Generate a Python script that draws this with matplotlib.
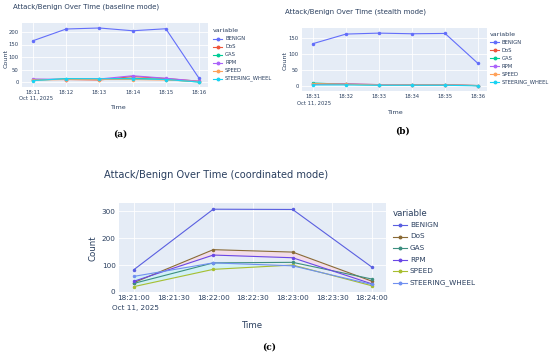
import matplotlib
matplotlib.use('Agg')
import matplotlib.pyplot as plt
from matplotlib.lines import Line2D

series = ['BENIGN', 'DoS', 'GAS', 'RPM', 'SPEED', 'STEERING_WHEEL']

# baseline mode (a)
base_x = [0, 1, 2, 3, 4, 5]
base_ticks = ['18:11', '18:12', '18:13', '18:14', '18:15', '18:16']
base_benign = [165, 212, 216, 205, 213, 15]
base_dos = [10, 10, 8, 22, 14, 3]
base_gas = [7, 13, 12, 15, 10, 0]
base_rpm = [12, 10, 12, 25, 15, 3]
base_speed = [8, 10, 10, 10, 8, 2]
base_steer = [6, 13, 13, 13, 10, 0]

# stealth mode (b)
st_x = [0, 1, 2, 3, 4, 5]
st_ticks = ['18:31', '18:32', '18:33', '18:34', '18:35', '18:36']
st_benign = [132, 162, 165, 163, 164, 70]
st_dos = [6, 6, 4, 4, 3, 1]
st_gas = [9, 5, 3, 3, 3, 1]
st_rpm = [5, 6, 4, 3, 3, 1]
st_speed = [7, 5, 3, 3, 3, 1]
st_steer = [3, 3, 2, 2, 2, 0]

# coordinated mode (c), seconds after 18:21:00
co_x = [0, 60, 120, 180]
co_tick_pos = [0, 30, 60, 90, 120, 150, 180]
co_ticks = ['18:21:00', '18:21:30', '18:22:00', '18:22:30',
            '18:23:00', '18:23:30', '18:24:00']
co_benign = [83, 307, 306, 92]
co_dos = [35, 157, 148, 40]
co_gas = [32, 108, 110, 48]
co_rpm = [40, 137, 127, 30]
co_speed = [20, 84, 100, 23]
co_steer = [58, 108, 97, 28]

date_label = 'Oct 11, 2025'

cols_ab = ['#636efa', '#ef553b', '#00cc96', '#ab63fa', '#ffa15a', '#19d3f3']
cols_c = ['#5a5fe0', '#8a6a35', '#3d8f80', '#6a48e6', '#a8be30', '#7090f0']

BG = '#e5ecf6'
TXT = '#2a3f5f'
W, H = 550, 360

fig = plt.figure(figsize=(5.5, 3.6), dpi=100)
fig.patch.set_facecolor('white')


def fx(px):
    return px / W


def fy(py):
    return 1 - py / H


def panel(box, x, ys, cols, ticks, tick_pos, xlim, ylim, yticks, title,
          fs, tfs, lfs, pos, leg, fills):
    # box = (left, top, right, bottom) in pixels
    l, t, r, b = box
    ax = fig.add_axes([fx(l), fy(b), (r - l) / W, (b - t) / H])
    ax.set_facecolor(BG)
    for s in ax.spines.values():
        s.set_visible(False)
    ax.grid(True, color='white', linewidth=0.6)
    ax.set_axisbelow(True)
    for i, j, fc in fills:
        ax.fill_between(x, ys[i], ys[j], color=fc, alpha=0.7, linewidth=0)
    for name, y, c in zip(series, ys, cols):
        ax.plot(x, y, color=c, linewidth=0.8, marker='o', markersize=1.5,
                label=name)
    ax.set_xlim(*xlim)
    ax.set_ylim(*ylim)
    ax.set_xticks(tick_pos)
    ax.set_xticklabels(ticks)
    ax.set_yticks(yticks)
    ax.tick_params(length=0, labelsize=fs, colors=TXT, pad=2.5)

    # texts placed by pixel position
    fig.text(fx(pos['title'][0]), fy(pos['title'][1]), title, fontsize=tfs,
             color=TXT, ha='left', va='center')
    fig.text(fx(pos['date'][0]), fy(pos['date'][1]), date_label, fontsize=fs,
             color=TXT, ha='left', va='center')
    fig.text(fx(pos['xlab'][0]), fy(pos['xlab'][1]), 'Time', fontsize=lfs,
             color=TXT, ha='center', va='center')
    fig.text(fx(pos['ylab'][0]), fy(pos['ylab'][1]), 'Count', fontsize=lfs,
             color=TXT, ha='center', va='center', rotation=90)

    # legend drawn in figure pixels
    lx, ly, step, hl = leg
    fig.text(fx(lx), fy(ly), 'variable', fontsize=lfs, color=TXT,
             ha='left', va='center')
    for k, (name, c) in enumerate(zip(series, cols)):
        yy = ly + step * (k + 1) + 0.5
        fig.add_artist(Line2D([fx(lx), fx(lx + hl)], [fy(yy), fy(yy)],
                              color=c, linewidth=0.8,
                              transform=fig.transFigure))
        fig.add_artist(Line2D([fx(lx + hl / 2)], [fy(yy)], color=c,
                              marker='o', markersize=1.8, linestyle='none',
                              transform=fig.transFigure))
        fig.text(fx(lx + hl + 3), fy(yy), name, fontsize=fs, color=TXT,
                 ha='left', va='center')
    return ax


panel((22, 23, 208, 87), base_x,
      [base_benign, base_dos, base_gas, base_rpm, base_speed, base_steer],
      cols_ab, base_ticks, base_x, (-0.33, 5.27), (-20, 236),
      [0, 50, 100, 150, 200],
      'Attack/Benign Over Time (baseline mode)', 3.8, 5.0, 4.6,
      {'title': (13, 7), 'date': (19, 98), 'xlab': (118, 107), 'ylab': (6, 58)},
      (213, 30, 8.0, 9), [(3, 4, '#fbd3dc')])

panel((302, 28, 487, 91), st_x,
      [st_benign, st_dos, st_gas, st_rpm, st_speed, st_steer],
      cols_ab, st_ticks, st_x, (-0.33, 5.27), (-16, 181),
      [0, 50, 100, 150],
      'Attack/Benign Over Time (stealth mode)', 3.8, 5.0, 4.6,
      {'title': (285, 12), 'date': (297, 103), 'xlab': (395, 112), 'ylab': (285, 60)},
      (490, 34, 7.9, 9), [])

panel((119, 203, 386, 292), co_x,
      [co_benign, co_dos, co_gas, co_rpm, co_speed, co_steer],
      cols_c, co_ticks, co_tick_pos, (-11.3, 190.6), (0, 330),
      [0, 100, 200, 300],
      'Attack/Benign Over Time (coordinated mode)', 5.2, 7.1, 6.2,
      {'title': (104, 175), 'date': (112, 308), 'xlab': (253, 325), 'ylab': (93, 248)},
      (393, 213, 11.5, 14), [(1, 3, '#f9d6e4'), (5, 4, '#c9f3f6')])

for txt, px, py in [('(a)', 120, 134), ('(b)', 402, 131), ('(c)', 269, 347)]:
    fig.text(fx(px), fy(py), txt, fontsize=6.5, fontweight='bold',
             family='DejaVu Serif', ha='center', va='center', color='black')

fig.savefig('out.png', dpi=100, facecolor='white')
